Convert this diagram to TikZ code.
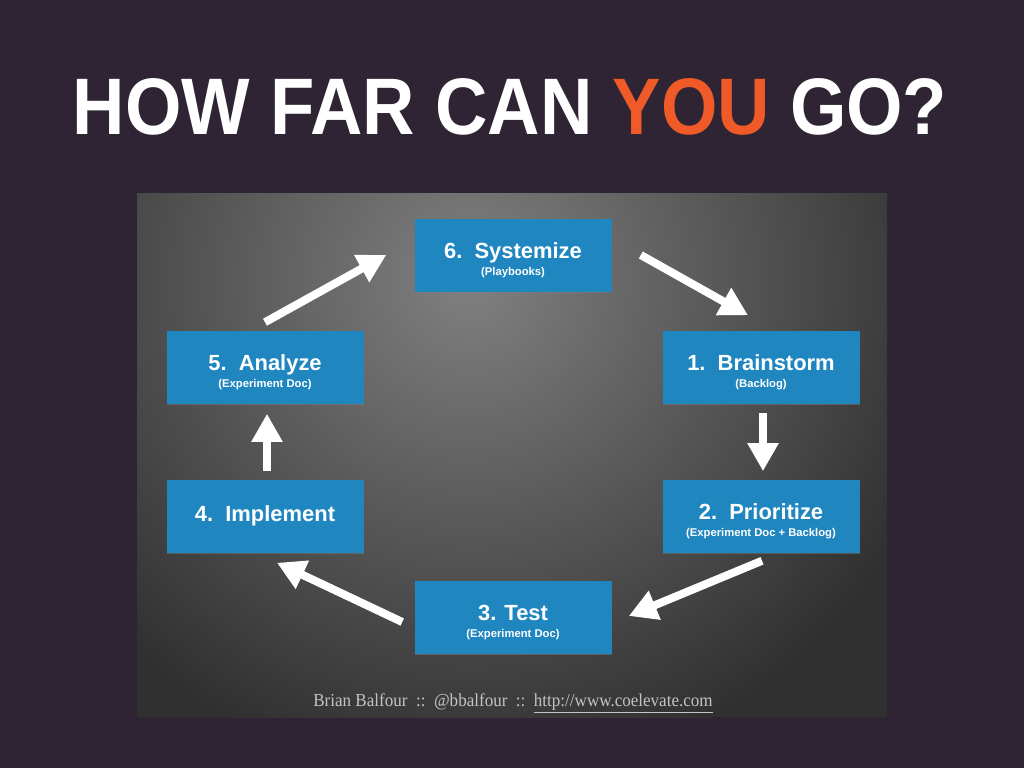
\documentclass[tikz,border=0pt]{standalone}
\usepackage{fontspec}
\usepackage{graphicx}
\usepackage{xcolor}
\usepackage{tikz}
\usetikzlibrary{arrows.meta, positioning, shadows}
\newfontfamily\headfont{Liberation Sans}
\newfontfamily\footfont{Liberation Serif}
\definecolor{slidebg}{RGB}{46,36,52}
\definecolor{youorange}{RGB}{240,90,40}
\definecolor{stageblue}{RGB}{31,134,192}
\definecolor{panelhi}{RGB}{128,128,128}
\definecolor{panello}{RGB}{48,48,48}
\definecolor{footgray}{RGB}{195,195,195}
\newcommand{\stagetext}[2]{\rule{0pt}{19pt}#1\\[-5.5pt]{\fontsize{8pt}{9pt}\selectfont #2}}

\begin{document}
\begin{tikzpicture}[x=0.025cm, y=-0.025cm,
  stage/.style={fill=stageblue, minimum width=197*0.025cm, minimum height=73*0.025cm,
                inner sep=0pt, text=white, align=center,
                font=\headfont\bfseries\fontsize{15.6pt}{18pt}\selectfont,
                drop shadow={opacity=0.45, shadow xshift=0.6pt, shadow yshift=-0.8pt}},
  flow/.style={draw=white, line width=5.7pt, -{Triangle[length=20pt, width=21pt]}}]
  \useasboundingbox (0,0) rectangle (1024,768);
  \fill[slidebg] (0,0) rectangle (1024,768);

  % title
  \node[anchor=base, text=white, inner sep=0pt] (title) at (510,135)
    {\headfont\bfseries\fontsize{57pt}{62pt}\selectfont
     \scalebox{0.905}[1]{HOW FAR CAN \textcolor{youorange}{YOU} GO?}};

  % gray panel
  \begin{scope}
    \clip (137,193) rectangle (887,717);
    \fill[panello] (137,193) rectangle (887,717);
    \shade[inner color=panelhi, outer color=panello] (470,280) circle (500);
  \end{scope}

  % stages
  \node[stage] (systemize) at (513,255) {\stagetext{6.\ \ Systemize}{(Playbooks)}};
  \node[stage] (brainstorm) at (761,367) {\stagetext{1.\ \ Brainstorm}{(Backlog)}};
  \node[stage] (prioritize) at (761,516) {\stagetext{2.\ \ Prioritize}{(Experiment Doc + Backlog)}};
  \node[stage] (test) at (513,617) {\stagetext{3. Test}{(Experiment Doc)}};
  \node[stage] (implement) at (265,516) {4.\ \ Implement};
  \node[stage] (analyze) at (265,367) {\stagetext{5.\ \ Analyze}{(Experiment Doc)}};

  % cycle arrows
  \draw[flow] ([shift={(0,-8)}]analyze.north) -- ([shift={(-28,0)}]systemize.west);
  \draw[flow] ([shift={(29,0)}]systemize.east) -- ([shift={(-13,-15)}]brainstorm.north);
  \draw[flow] ([shift={(2,9)}]brainstorm.south) -- ([shift={(2,-8)}]prioritize.north);
  \draw[flow] ([shift={(1,8)}]prioritize.south) -- ([shift={(17,-1)}]test.east);
  \draw[flow] ([shift={(-12,5)}]test.west) -- ([shift={(12,10)}]implement.south);
  \draw[flow] ([shift={(2,-8)}]implement.north) -- ([shift={(2,10)}]analyze.south);

  % credits
  \node[anchor=base, text=footgray, inner sep=0pt] (credits) at (513,706)
    {\footfont\fontsize{13pt}{15pt}\selectfont
     \scalebox{0.932}[1]{Brian Balfour\ \ ::\ \ @bbalfour\ \ ::\ \ \underline{http://www.coelevate.com}}};
\end{tikzpicture}
\end{document}
